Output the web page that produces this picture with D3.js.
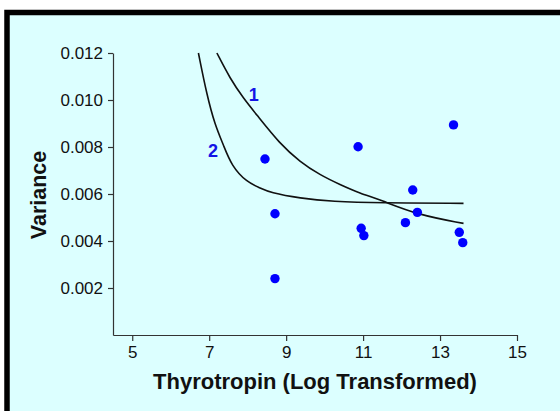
<!DOCTYPE html>
<html>
<head>
<meta charset="utf-8">
<script src="https://cdn.jsdelivr.net/npm/d3@7/dist/d3.min.js"></script>
<style>
  html, body { margin: 0; padding: 0; background: #ffffff; }
  svg { display: block; }
  text { font-family: "Liberation Sans", Arial, sans-serif; }
</style>
</head>
<body>
<script>
// Observed subjects: log-transformed thyrotropin vs. variance
const pointsX = [8.45, 8.71, 8.71, 10.87, 10.95, 11.02, 12.10, 12.29, 12.41, 13.35, 13.50, 13.59];
const pointsY = [0.00749, 0.00516, 0.00240, 0.00801, 0.00454, 0.00423, 0.00478, 0.00617, 0.00522, 0.00894, 0.00437, 0.00393];

// Fitted curve 1
const curve1X = [7.20, 7.54, 7.89, 8.24, 8.84, 9.36, 9.88, 10.40, 10.92, 11.44, 12.40, 13.61];
const curve1Y = [0.01200, 0.01092, 0.01007, 0.00936, 0.00813, 0.00737, 0.00681, 0.00640, 0.00603, 0.00576, 0.00512, 0.00475];

// Fitted curve 2
const curve2X = [6.72, 6.94, 7.15, 7.37, 7.58, 7.98, 8.32, 8.58, 9.36, 10.20, 11.44, 13.61];
const curve2Y = [0.01200, 0.01021, 0.00894, 0.00809, 0.00720, 0.00650, 0.00626, 0.00606, 0.00582, 0.00568, 0.00562, 0.00560];

const curveLabels = ["1", "2"];
const curveLabelX = [8.16, 7.10];
const curveLabelY = [0.00995, 0.00758];

const xTicks = [5, 7, 9, 11, 13, 15];
const yTicks = [0.002, 0.004, 0.006, 0.008, 0.010, 0.012];

const W = 560, H = 411;
const svg = d3.select("body").append("svg").attr("width", W).attr("height", H);

// Panel background with heavy black frame on top and left
svg.append("rect")
  .attr("x", 7).attr("y", 12.5)
  .attr("width", 700).attr("height", 600)
  .attr("fill", "#dcffff")
  .attr("stroke", "#000").attr("stroke-width", 5.5);

const x = d3.scaleLinear().domain([4.5, 15]).range([113, 517]);
const y = d3.scaleLinear().domain([0, 0.012]).range([335, 53]);

const axisColor = "#333";

const gx = svg.append("g").attr("transform", "translate(0,335)")
  .call(d3.axisBottom(x).tickValues(xTicks).tickSize(6).tickSizeOuter(0).tickPadding(5).tickFormat(d3.format("d")));
const gy = svg.append("g").attr("transform", "translate(113,0)")
  .call(d3.axisLeft(y).tickValues(yTicks).tickSize(5).tickSizeOuter(0).tickPadding(5).tickFormat(d3.format(".3f")));

[gx, gy].forEach(g => {
  g.selectAll("path, line").attr("stroke", axisColor).attr("stroke-width", 1.2);
  g.selectAll("text").attr("fill", "#111").style("font-size", "17px")
    .style("font-family", "'Liberation Sans', Arial, sans-serif");
});

// Fitted curves
const line = d3.line().x(d => x(d[0])).y(d => y(d[1])).curve(d3.curveBasis);
[[curve1X, curve1Y], [curve2X, curve2Y]].forEach(([cx, cy]) => {
  svg.append("path")
    .datum(cx.map((v, i) => [v, cy[i]]))
    .attr("d", line)
    .attr("fill", "none")
    .attr("stroke", "#111")
    .attr("stroke-width", 1.6);
});

// Curve labels
svg.selectAll("text.curve-label")
  .data(curveLabels)
  .enter().append("text")
  .attr("class", "curve-label")
  .attr("x", (d, i) => x(curveLabelX[i]))
  .attr("y", (d, i) => y(curveLabelY[i]))
  .attr("text-anchor", "middle")
  .attr("fill", "#1414e6")
  .style("font-size", "18px")
  .style("font-weight", "bold")
  .text(d => d);

// Data points
svg.selectAll("circle.pt")
  .data(pointsX.map((v, i) => [v, pointsY[i]]))
  .enter().append("circle")
  .attr("class", "pt")
  .attr("cx", d => x(d[0]))
  .attr("cy", d => y(d[1]))
  .attr("r", 4.7)
  .attr("fill", "#0000ff");

// Axis titles
svg.append("text")
  .attr("x", 315).attr("y", 389)
  .attr("text-anchor", "middle")
  .attr("fill", "#111")
  .style("font-size", "22px").style("font-weight", "bold")
  .text("Thyrotropin (Log Transformed)");

svg.append("text")
  .attr("transform", "translate(46,195) rotate(-90)")
  .attr("text-anchor", "middle")
  .attr("fill", "#111")
  .style("font-size", "21.5px").style("font-weight", "bold")
  .text("Variance");
</script>
</body>
</html>
